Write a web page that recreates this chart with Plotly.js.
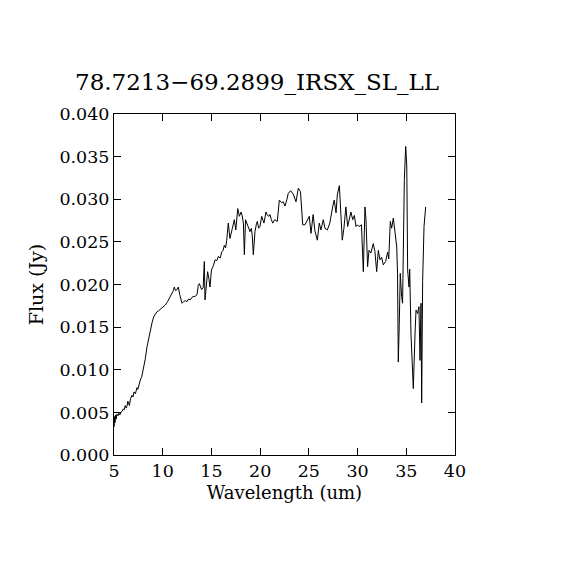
<!DOCTYPE html>
<html>
<head>
<meta charset="utf-8">
<script src="https://cdn.plot.ly/plotly-3.0.1.min.js"></script>
<style>html,body{margin:0;padding:0;background:#fff;}#chart{width:570px;height:570px;}</style>
</head>
<body>
<div id="chart"></div>
<script>
var chartTitle = "78.7213\u221269.2899_IRSX_SL_LL";
var xTitle = "Wavelength (um)";
var yTitle = "Flux (Jy)";
var xTickVals = [5, 10, 15, 20, 25, 30, 35, 40];
var yTickVals = [0.000, 0.005, 0.010, 0.015, 0.020, 0.025, 0.030, 0.035, 0.040];

var wavelength = [
  5.02, 5.06, 5.10, 5.15, 5.22, 5.30, 5.40, 5.50, 5.60, 5.70, 5.82, 5.95, 6.05, 6.15, 6.25, 6.33, 6.42, 6.50, 6.58,
  6.70, 6.85, 6.95, 7.05, 7.20, 7.36, 7.45, 7.55, 7.70, 7.85, 8.05, 8.20, 8.39, 8.55, 8.73, 8.90, 9.07, 9.20,
  9.41, 9.55, 9.75, 9.95, 10.10, 10.27, 10.50, 10.78, 10.95, 11.10, 11.19, 11.30, 11.47, 11.60, 11.75, 11.98,
  12.15, 12.32, 12.50, 12.65, 12.83, 13.00, 13.18, 13.31, 13.52, 13.65, 13.76, 13.99, 14.15, 14.27, 14.34,
  14.48, 14.61, 14.75, 14.85, 15.00, 15.20, 15.37, 15.55, 15.71, 15.90, 16.05, 16.20, 16.32, 16.45, 16.57,
  16.73, 16.90, 17.02, 17.15, 17.35, 17.50, 17.70, 17.87, 18.04, 18.15, 18.28, 18.38, 18.50, 18.62, 18.80,
  18.96, 19.10, 19.20, 19.30, 19.47, 19.60, 19.71, 19.85, 19.98, 20.16, 20.39, 20.60, 20.75, 20.90, 21.01,
  21.15, 21.29, 21.50, 21.76, 21.97, 22.20, 22.37, 22.55, 22.75, 22.89, 23.13, 23.40, 23.68, 23.92, 24.14,
  24.37, 24.60, 24.84, 25.04, 25.22, 25.44, 25.62, 25.87, 26.07, 26.24, 26.48, 26.65, 26.90, 27.15, 27.44,
  27.60, 27.79, 27.92, 28.13, 28.27, 28.43, 28.60, 28.80, 28.98, 29.15, 29.32, 29.50, 29.67, 29.84, 29.98,
  30.15, 30.40, 30.59, 30.76, 30.86, 31.03, 31.17, 31.37, 31.61, 31.78, 31.96, 32.13, 32.30, 32.47, 32.64,
  32.88, 33.09, 33.20, 33.36, 33.50, 33.67, 33.84, 34.02, 34.10, 34.18, 34.28, 34.38, 34.52, 34.62, 34.80,
  34.94, 35.05, 35.14, 35.28, 35.35, 35.48, 35.62, 35.72, 35.90, 36.00, 36.17, 36.30, 36.41, 36.51, 36.58,
  36.68, 36.82, 36.99
];
var flux = [
  0.0033, 0.0045, 0.0038, 0.0047, 0.0042, 0.0048, 0.0046, 0.0049, 0.0047, 0.0050, 0.0051, 0.0054, 0.0053, 0.0058, 0.0055, 0.0057, 0.0063, 0.0061, 0.0058,
  0.0066, 0.0070, 0.0068, 0.0074, 0.0072, 0.0079, 0.0077, 0.0083, 0.0088, 0.0092, 0.0102, 0.0112, 0.0127, 0.0137, 0.0147, 0.0155, 0.0162, 0.0165,
  0.0168, 0.0169, 0.0171, 0.0173, 0.0174, 0.0176, 0.0180, 0.0186, 0.0189, 0.0193, 0.0197, 0.0193, 0.0194, 0.0197, 0.0188, 0.0178,
  0.0180, 0.0181, 0.0180, 0.0183, 0.0182, 0.0185, 0.0186, 0.0186, 0.0188, 0.0199, 0.0201, 0.0194, 0.0196, 0.0227, 0.0182,
  0.0205, 0.0215, 0.0206, 0.0197, 0.0217, 0.0222, 0.0229, 0.0228, 0.0233, 0.0231, 0.0238, 0.0240, 0.0246, 0.0243, 0.0252,
  0.0272, 0.0254, 0.0262, 0.0266, 0.0276, 0.0264, 0.0289, 0.0280, 0.0285, 0.0281, 0.0272, 0.0235, 0.0276, 0.0272, 0.0268,
  0.0262, 0.0266, 0.0256, 0.0235, 0.0262, 0.0270, 0.0274, 0.0266, 0.0268, 0.0280, 0.0272, 0.0285, 0.0281, 0.0280, 0.0282,
  0.0276, 0.0272, 0.0276, 0.0274, 0.0299, 0.0296, 0.0297, 0.0292, 0.0300, 0.0307, 0.0310, 0.0306, 0.0297, 0.0313, 0.0309,
  0.0270, 0.0270, 0.0276, 0.0280, 0.0260, 0.0282, 0.0263, 0.0252, 0.0272, 0.0264, 0.0276, 0.0266, 0.0264, 0.0272, 0.0291,
  0.0299, 0.0284, 0.0305, 0.0316, 0.0287, 0.0252, 0.0266, 0.0291, 0.0268, 0.0278, 0.0285, 0.0276, 0.0281, 0.0268, 0.0270,
  0.0268, 0.0270, 0.0215, 0.0291, 0.0277, 0.0221, 0.0240, 0.0237, 0.0248, 0.0239, 0.0215, 0.0240, 0.0229, 0.0232, 0.0223,
  0.0227, 0.0238, 0.0230, 0.0274, 0.0266, 0.0278, 0.0264, 0.0244, 0.0213, 0.0109, 0.0154, 0.0213, 0.0186, 0.0178, 0.0323,
  0.0362, 0.0339, 0.0217, 0.0197, 0.0218, 0.0143, 0.0088, 0.0078, 0.0143, 0.0170, 0.0166, 0.0174, 0.0111, 0.0178, 0.0061,
  0.0205, 0.0268, 0.0291
];

var fontFam = "DejaVu Serif, Liberation Serif, serif";

var trace = {
  x: wavelength,
  y: flux,
  type: "scatter",
  mode: "lines",
  line: {color: "#000000", width: 1},
  hoverinfo: "skip"
};

var axisCommon = {
  showgrid: false,
  zeroline: false,
  showline: true,
  linecolor: "#000000",
  linewidth: 1,
  mirror: "ticks",
  ticks: "inside",
  ticklen: 7,
  tickwidth: 1,
  tickcolor: "#000000",
  tickmode: "array",
  tickfont: {family: fontFam, size: 17.5, color: "#000000"}
};

var layout = {
  width: 570,
  height: 570,
  paper_bgcolor: "#ffffff",
  plot_bgcolor: "#ffffff",
  showlegend: false,
  margin: {l: 114, r: 115, t: 114, b: 115, pad: 0},
  title: {
    text: chartTitle,
    font: {family: fontFam, size: 23, color: "#000000"},
    xref: "container", x: 0.451, xanchor: "center",
    yref: "container", y: 0.856, yanchor: "middle"
  },
  xaxis: Object.assign({}, axisCommon, {
    range: [5, 40],
    tickvals: xTickVals,
    ticktext: xTickVals.map(String),
    title: {text: xTitle, font: {family: fontFam, size: 18, color: "#000000"}, standoff: 6}
  }),
  yaxis: Object.assign({}, axisCommon, {
    range: [0, 0.04],
    tickvals: yTickVals,
    ticktext: yTickVals.map(function (v) { return v.toFixed(3); }),
    title: {text: yTitle, font: {family: fontFam, size: 19, color: "#000000"}, standoff: 10}
  })
};

Plotly.newPlot("chart", [trace], layout, {displayModeBar: false, staticPlot: true});
</script>
</body>
</html>
